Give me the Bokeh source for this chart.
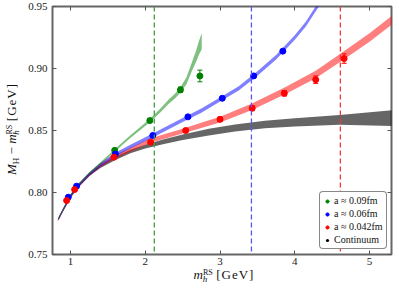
from bokeh.plotting import figure
from bokeh.layouts import row, column
from bokeh.models import (ColumnDataSource, Span, Whisker, TeeHead, Legend, LegendItem,
                          LinearAxis, FixedTicker, Div)
from bokeh.embed import file_html
from bokeh.resources import INLINE

# ---------------- data ----------------
x_ticks = [1, 2, 3, 4, 5]
y_ticks = [0.75, 0.80, 0.85, 0.90, 0.95]
y_tick_labels = ["0.75", "0.80", "0.85", "0.90", "0.95"]

thresholds = [2.12, 3.42, 4.61]          # green, blue, red dashed lines

# lattice points
g_x = [1.59, 2.06, 2.47, 2.73]
g_y = [0.8340, 0.8580, 0.8828, 0.8940]
g_e = [0.0010, 0.0013, 0.0022, 0.0047]

b_x = [0.969, 1.08, 1.60, 2.10, 2.57, 3.03, 3.45, 3.84]
b_y = [0.7962, 0.8051, 0.8310, 0.8460, 0.8610, 0.8760, 0.8940, 0.9140]
b_e = [0.0007, 0.0007, 0.0008, 0.0009, 0.0010, 0.0010, 0.0011, 0.0012]

r_x = [0.947, 1.054, 1.58, 2.07, 2.54, 3.00, 3.43, 3.86, 4.28, 4.66]
r_y = [0.7935, 0.8024, 0.8285, 0.8406, 0.8500, 0.8590, 0.8680, 0.8800, 0.8910, 0.9080]
r_e = [0.0008, 0.0009, 0.0010, 0.0013, 0.0015, 0.0018, 0.0020, 0.0022, 0.0030, 0.0038]

# fit bands (centre, half width)
gc_x = [0.84, 0.9, 1.0, 1.1, 1.25, 1.4, 1.59, 1.8, 2.06, 2.2, 2.31, 2.4, 2.47, 2.55, 2.62, 2.68, 2.72, 2.755]
gc_y = [0.779, 0.786, 0.7975, 0.806, 0.8155, 0.8235, 0.8338, 0.845, 0.858, 0.866, 0.873, 0.878, 0.8828, 0.890, 0.901, 0.910, 0.917, 0.922]
gc_w = [0.0009, 0.0009, 0.0009, 0.0009, 0.0009, 0.0009, 0.0010, 0.0011, 0.0013, 0.0015, 0.0017, 0.0019, 0.0022, 0.0027, 0.0035, 0.0045, 0.0055, 0.0065]

bc_x = [0.84, 0.9, 1.0, 1.1, 1.25, 1.4, 1.6, 1.8, 2.1, 2.5, 2.75, 3.0, 3.25, 3.5, 3.75, 4.0, 4.15, 4.3, 4.4]
bc_y = [0.779, 0.786, 0.7972, 0.8055, 0.8148, 0.8225, 0.8305, 0.837, 0.846, 0.8585, 0.866, 0.875, 0.884, 0.896, 0.909, 0.925, 0.936, 0.950, 0.959]
bc_w = [0.0013, 0.0013, 0.0014, 0.0014, 0.0014, 0.0015, 0.0015, 0.0015, 0.0016, 0.0016, 0.0017, 0.0017, 0.0017, 0.0018, 0.0018, 0.0019, 0.0020, 0.0021, 0.0021]

rc_x = [0.83, 0.9, 1.0, 1.1, 1.25, 1.4, 1.6, 1.8, 2.07, 2.5, 2.85, 3.0, 3.42, 3.87, 4.28, 4.61, 5.0, 5.3]
rc_y = [0.778, 0.786, 0.797, 0.805, 0.8145, 0.822, 0.829, 0.8345, 0.842, 0.8495, 0.856, 0.8588, 0.869, 0.882, 0.8952, 0.9087, 0.925, 0.939]
rc_w = [0.0012, 0.0012, 0.0013, 0.0013, 0.0014, 0.0014, 0.0015, 0.0016, 0.0018, 0.0020, 0.0022, 0.0023, 0.0026, 0.0028, 0.0030, 0.0032, 0.0034, 0.0036]

kc_x = [0.83, 0.9, 1.0, 1.1, 1.25, 1.4, 1.6, 1.8, 2.0, 2.25, 2.5, 2.85, 3.2, 3.6, 4.0, 4.6, 5.3]
kc_y = [0.778, 0.786, 0.797, 0.805, 0.8145, 0.821, 0.8275, 0.833, 0.837, 0.841, 0.8445, 0.8487, 0.852, 0.8548, 0.8566, 0.8586, 0.8600]
kc_w = [0.0008, 0.0009, 0.0010, 0.0010, 0.0011, 0.0012, 0.0013, 0.0014, 0.0016, 0.0019, 0.0022, 0.0027, 0.0028, 0.0030, 0.0033, 0.0040, 0.0063]

legend_labels = ["a \u2248 0.09fm", "a \u2248 0.06fm", "a \u2248 0.042fm", "Continuum"]

GREEN, BLUE, RED, BLACK = "#008000", "#0000ff", "#ff0000", "#000000"
SERIF = "Liberation Serif"
X0, X1, Y0, Y1 = 0.758, 5.294, 0.75, 0.95

# ---------------- figure ----------------
p = figure(width=373, height=268, x_range=(X0, X1), y_range=(Y0, Y1),
           output_backend="svg", toolbar_location=None,
           min_border_left=30, min_border_right=4, min_border_top=6, min_border_bottom=14)
p.grid.visible = False
p.outline_line_color = "#666666"
p.outline_line_width = 2
p.background_fill_color = "white"
p.border_fill_color = "white"


def style_axis(ax, show_labels):
    ax.axis_line_color = None
    ax.major_tick_in = 4
    ax.major_tick_out = 0
    ax.major_tick_line_color = "#555555"
    ax.major_tick_line_width = 1
    ax.minor_tick_line_color = None
    ax.major_label_text_font = SERIF
    ax.major_label_text_font_size = "11px"
    ax.major_label_text_color = "#222222" if show_labels else None
    ax.major_label_standoff = 5 if show_labels else 0


p.xaxis.ticker = FixedTicker(ticks=x_ticks)
p.yaxis.ticker = FixedTicker(ticks=y_ticks)
p.yaxis.major_label_overrides = {t: s for t, s in zip(y_ticks, y_tick_labels)}
style_axis(p.xaxis[0], True)
style_axis(p.yaxis[0], True)
p.xaxis.major_label_standoff = 3

rax = LinearAxis(ticker=FixedTicker(ticks=y_ticks))
rax.major_label_overrides = {t: "" for t in y_ticks}
style_axis(rax, False)
p.add_layout(rax, "right")
tax = LinearAxis(ticker=FixedTicker(ticks=x_ticks))
tax.major_label_overrides = {t: "" for t in x_ticks}
style_axis(tax, False)
p.add_layout(tax, "above")


def band(xs, ys, ws, color, alpha):
    src = ColumnDataSource(dict(x=xs, lo=[y - w for y, w in zip(ys, ws)],
                                hi=[y + w for y, w in zip(ys, ws)]))
    p.varea(x="x", y1="lo", y2="hi", source=src, fill_color=color, fill_alpha=alpha)


band(kc_x, kc_y, kc_w, BLACK, 0.6)
band(rc_x, rc_y, rc_w, RED, 0.5)
band(bc_x, bc_y, bc_w, BLUE, 0.5)
band(gc_x, gc_y, gc_w, GREEN, 0.5)

for xv, col in zip(thresholds, ["#3fa03f", "#5555ff", "#ff3030"]):
    p.add_layout(Span(location=xv, dimension="height", line_color=col,
                      line_width=1.3, line_dash="5 3"))


def points(xs, ys, es, color):
    src = ColumnDataSource(dict(x=xs, y=ys, lo=[y - e for y, e in zip(ys, es)],
                                hi=[y + e for y, e in zip(ys, es)]))
    p.add_layout(Whisker(source=src, base="x", lower="lo", upper="hi",
                         line_color=color, line_width=1,
                         lower_head=TeeHead(size=5, line_color=color, line_width=1),
                         upper_head=TeeHead(size=5, line_color=color, line_width=1)))
    return p.scatter(x="x", y="y", source=src, size=6, fill_color=color,
                     line_color=color, marker="circle")


rg = points(g_x, g_y, g_e, GREEN)
rb = points(b_x, b_y, b_e, BLUE)
rr = points(r_x, r_y, r_e, RED)
# continuum legend marker: zero-size markers on the continuum samples (invisible in
# the plot, while the legend draws its own marker)
ksrc = ColumnDataSource(dict(x=kc_x, y=kc_y))
rk = p.scatter(x="x", y="y", source=ksrc, size=0, fill_color=BLACK, line_color=None,
               marker="circle")

legend = Legend(items=[LegendItem(label=l, renderers=[r]) for l, r in
                       zip(legend_labels, [rg, rb, rr, rk])],
                location=(267, 5), orientation="vertical",
                label_text_font=SERIF, label_text_font_size="10px",
                label_text_color="#111111",
                glyph_width=8, glyph_height=10, label_height=10, label_standoff=3,
                spacing=2, padding=3, margin=0,
                border_line_color="#111111", border_line_width=1,
                background_fill_color="white", background_fill_alpha=1)
try:
    legend.border_radius = 4
except Exception:
    pass
p.add_layout(legend, "center")

# ---------------- axis titles as HTML text ----------------
FONT = "font-family:'Liberation Serif',serif;font-size:13px;color:#111;white-space:nowrap;"
SUP = "font-size:8px;vertical-align:4px;line-height:0;"
SUB = "font-size:9px;vertical-align:-3px;line-height:0;"
MH_TAIL = ("<i>m</i><sup style='" + SUP + "'>RS</sup>"
           "<sub style='" + SUB + "margin-left:-10px;'><i>h</i></sub>"
           "<span style='margin-left:9px;letter-spacing:1px;'>[GeV]</span>")

x_html = ("<div style=\"position:absolute;left:102px;top:0px;width:200px;line-height:14px;"
          "text-align:center;" + FONT + "\">" + MH_TAIL + "</div>")
y_html = ("<div style=\"position:absolute;left:-88.5px;top:119px;width:200px;height:20px;"
          "line-height:20px;text-align:center;transform:rotate(-90deg);" + FONT + "\">"
          "<i>M</i><sub style='" + SUB + "'>H</sub>&nbsp;&minus;&nbsp;" + MH_TAIL + "</div>")

xdiv = Div(text=x_html, width=373, height=24, margin=0,
           styles={"position": "relative", "overflow": "visible"})
ydiv = Div(text=y_html, width=22, height=292, margin=0,
           styles={"position": "relative", "overflow": "visible"})

layout = row(ydiv, column(p, xdiv, spacing=0), spacing=0)

open("out.html", "w").write(file_html(layout, INLINE))
